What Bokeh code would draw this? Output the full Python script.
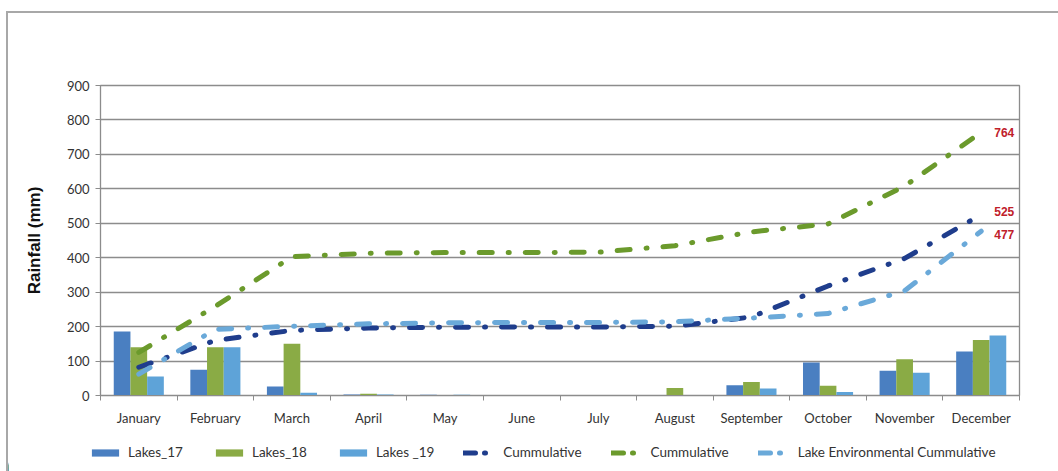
from bokeh.plotting import figure
from bokeh.models import (ColumnDataSource, Range1d, FixedTicker, Legend, LegendItem,
                          Spacer)
from bokeh.layouts import row, column
from bokeh.transform import dodge
from bokeh.core.properties import value
from bokeh.embed import file_html
from bokeh.resources import INLINE

# Monthly rainfall (mm)
months = ["January", "February", "March", "April", "May", "June", "July",
          "August", "September", "October", "November", "December"]
lakes_17 = [186, 75, 26, 3, 2, 0, 0, 0, 30, 96, 72, 128]
lakes_18 = [140, 140, 150, 5, 1, 0, 0, 22, 39, 28, 105, 161]
lakes_19 = [55, 140, 8, 3, 2, 0, 0, 0, 20, 10, 66, 174]

# Cumulative series
cum_17 = [82, 160, 189, 196, 198, 199, 199, 201, 228, 318, 398, 525]
cum_18 = [125, 259, 403, 413, 415, 415, 416, 435, 475, 498, 608, 764]
cum_env = [62, 192, 201, 208, 211, 212, 212, 214, 225, 238, 304, 477]

y_ticks = [0, 100, 200, 300, 400, 500, 600, 700, 800, 900]

C17 = "#4a7fc1"
C18 = "#8aab45"
C19 = "#5ea3d8"
L17 = "#1f3d8c"
L18 = "#6b9a2c"
LENV = "#6aa9d9"
GRID = "#8c8c8c"
EDGE = "#a8a8a8"
TICK_FONT = "Lato"

xc = [i + 0.5 for i in range(len(months))]
src = ColumnDataSource(dict(xc=xc, l17=lakes_17, l18=lakes_18, l19=lakes_19,
                            c17=cum_17, c18=cum_18, cenv=cum_env))

BW = 0.218
DASH = "13 16 1 16"
LEG_DASH = "12 9 1 30"


def add_series(fig, dash):
    """Clustered bars plus the three dash-dot cumulative lines."""
    r17 = fig.vbar(x=dodge("xc", -BW, range=fig.x_range), top="l17", width=BW,
                   source=src, fill_color=C17, line_color=None)
    r18 = fig.vbar(x="xc", top="l18", width=BW, source=src, fill_color=C18,
                   line_color=None)
    r19 = fig.vbar(x=dodge("xc", BW, range=fig.x_range), top="l19", width=BW,
                   source=src, fill_color=C19, line_color=None)
    k17 = fig.line("xc", "c17", source=src, line_color=L17, line_width=5,
                   line_dash=dash, line_cap="round")
    k18 = fig.line("xc", "c18", source=src, line_color=L18, line_width=5,
                   line_dash=dash, line_cap="round")
    kenv = fig.line("xc", "cenv", source=src, line_color=LENV, line_width=5,
                    line_dash=dash, line_cap="round")
    return [r17, r18, r19, k17, k18, kenv]


# main chart
p = figure(width=1050, height=416, output_backend="svg", toolbar_location=None,
           x_range=Range1d(0, 12), y_range=Range1d(0, 900),
           min_border_left=92, min_border_right=39, min_border_top=72,
           min_border_bottom=34, background_fill_color="white",
           border_fill_color="white")
p.outline_line_color = GRID
p.outline_line_width = 1.3
add_series(p, DASH)

# end-of-year totals
last = len(months) - 1
end_src = ColumnDataSource(dict(
    x=[xc[last]] * 3,
    y=[cum_18[last], cum_17[last], cum_env[last]],
    t=[str(cum_18[last]), str(cum_17[last]), str(cum_env[last])],
    dy=[0, -3, 3]))
p.text(x="x", y="y", text="t", y_offset="dy", source=end_src, x_offset=13,
       text_color="#c0202a", text_font=value("Liberation Sans"),
       text_font_style="bold", text_font_size="12px", text_baseline="middle")

xa = p.xaxis[0]
xa.ticker = FixedTicker(ticks=xc, minor_ticks=list(range(len(months) + 1)))
xa.major_label_overrides = {x: m for x, m in zip(xc, months)}
xa.major_tick_line_color = None
xa.minor_tick_line_color = GRID
xa.minor_tick_in = 0
xa.minor_tick_out = 5
xa.axis_line_color = GRID
xa.major_label_text_font = TICK_FONT
xa.major_label_text_font_size = "13px"
xa.major_label_text_color = "#333333"
xa.major_label_standoff = 8

ya = p.yaxis[0]
ya.ticker = FixedTicker(ticks=y_ticks)
ya.axis_line_color = GRID
ya.major_tick_line_color = GRID
ya.major_tick_in = 0
ya.major_tick_out = 5
ya.minor_tick_line_color = None
ya.major_label_text_font = TICK_FONT
ya.major_label_text_font_size = "13px"
ya.major_label_text_color = "#333333"
ya.major_label_standoff = 6
ya.axis_label = "Rainfall (mm)"
ya.axis_label_text_font = "Liberation Sans"
ya.axis_label_text_font_style = "bold"
ya.axis_label_text_font_size = "17px"
ya.axis_label_text_color = "#111111"
ya.axis_label_standoff = 20

p.xgrid.grid_line_color = None
p.ygrid.grid_line_color = GRID
p.ygrid.grid_line_width = 1.3
p.ygrid.ticker = FixedTicker(ticks=y_ticks)

# legend strip: same series, viewed outside their data range so only the key shows
lf = figure(width=1050, height=42, output_backend="svg", toolbar_location=None,
            x_range=Range1d(100, 101), y_range=Range1d(0, 900),
            x_axis_location=None, y_axis_location=None,
            min_border_left=0, min_border_right=0, min_border_top=0,
            min_border_bottom=0, background_fill_color="white",
            border_fill_color="white")
lf.frame_align = False
lf.outline_line_color = None
lf.grid.grid_line_color = None
keys = add_series(lf, LEG_DASH)
labels = ["Lakes_17", "Lakes_18", "Lakes _19", "Cummulative", "Cummulative",
          "Lake Environmental Cummulative"]
legend = Legend(items=[LegendItem(label=t, renderers=[r]) for t, r in zip(labels, keys)],
                orientation="horizontal", location=(80, 11), padding=0, margin=0,
                spacing=29, glyph_width=34, glyph_height=9, label_standoff=6,
                label_height=16, label_text_font=TICK_FONT,
                label_text_font_size="13.5px", label_text_color="#333333",
                border_line_color=None, background_fill_alpha=0)
lf.add_layout(legend, "center")

# chart-area edge along the top and left
top_edge = Spacer(width=1052, height=2, styles={"background-color": EDGE})
left_edge = Spacer(width=2, height=458, styles={"background-color": EDGE})
root = row(Spacer(width=6, height=471),
           column(Spacer(width=1052, height=11), top_edge,
                  row(left_edge, column(p, lf))))

open("out.html", "w").write(file_html(root, INLINE))
